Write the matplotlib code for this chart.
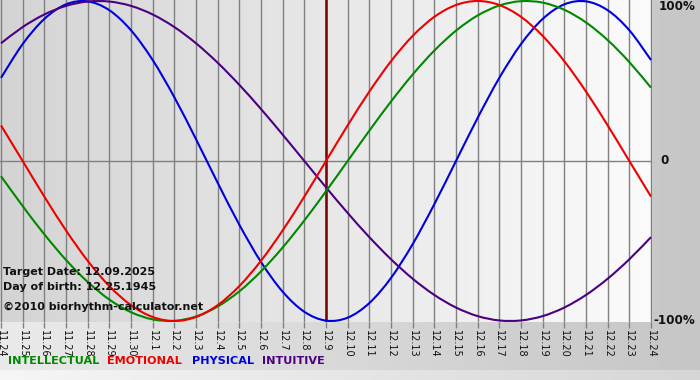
import numpy as np
import matplotlib
matplotlib.use("Agg")
import matplotlib.pyplot as plt
from matplotlib.colors import LinearSegmentedColormap
from matplotlib.path import Path
from matplotlib.patches import PathPatch

# ---- data ----
dates = ["11.24", "11.25", "11.26", "11.27", "11.28", "11.29", "11.30",
         "12.1", "12.2", "12.3", "12.4", "12.5", "12.6", "12.7", "12.8", "12.9",
         "12.10", "12.11", "12.12", "12.13", "12.14", "12.15", "12.16", "12.17",
         "12.18", "12.19", "12.20", "12.21", "12.22", "12.23", "12.24"]
target_label = "12.9"

physical = [0.5196, 0.7308, 0.8879, 0.9791, 0.9977, 0.9423, 0.8170, 0.6310, 0.3984,
            0.1362, -0.1362, -0.3984, -0.6310, -0.8170, -0.9423, -0.9977, -0.9791,
            -0.8879, -0.7308, -0.5196, -0.2698, 0.0, 0.2698, 0.5196, 0.7308, 0.8879,
            0.9791, 0.9977, 0.9423, 0.8170, 0.6310]
emotional = [0.2225, 0.0, -0.2225, -0.4339, -0.6235, -0.7818, -0.9010, -0.9749, -1.0,
             -0.9749, -0.9010, -0.7818, -0.6235, -0.4339, -0.2225, 0.0, 0.2225, 0.4339,
             0.6235, 0.7818, 0.9010, 0.9749, 1.0, 0.9749, 0.9010, 0.7818, 0.6235, 0.4339,
             0.2225, 0.0, -0.2225]
intellectual = [-0.0951, -0.2817, -0.4582, -0.6182, -0.7557, -0.8660, -0.9450, -0.9898,
                -0.9989, -0.9718, -0.9096, -0.8146, -0.6901, -0.5406, -0.3717, -0.1893,
                0.0, 0.1893, 0.3717, 0.5406, 0.6901, 0.8146, 0.9096, 0.9718, 0.9989,
                0.9898, 0.9450, 0.8660, 0.7557, 0.6182, 0.4582]
intuitive = [0.7357, 0.8372, 0.9158, 0.9694, 0.9966, 0.9966, 0.9694, 0.9158, 0.8372,
             0.7357, 0.6142, 0.4759, 0.3247, 0.1646, 0.0, -0.1646, -0.3247, -0.4759,
             -0.6142, -0.7357, -0.8372, -0.9158, -0.9694, -0.9966, -0.9966, -0.9694,
             -0.9158, -0.8372, -0.7357, -0.6142, -0.4759]

series_names = ["INTELLECTUAL", "EMOTIONAL", "PHYSICAL", "INTUITIVE"]
series_colors = ["#008800", "#ee0000", "#0000dd", "#4b0082"]
series_values = [intellectual, emotional, physical, intuitive]
draw_order = [2, 3, 0, 1]  # physical, intuitive, intellectual, emotional

info_lines = ["Target Date: 12.09.2025", "Day of birth: 12.25.1945",
              "\u00a92010 biorhythm-calculator.net"]
ytick_vals = [1, 0, -1]
ytick_text = ["100%", "0", "-100%"]

# ---- figure ----
W, H = 700, 380
fig = plt.figure(figsize=(W / 100, H / 100), dpi=100)

bg = fig.add_axes([0, 0, 1, 1], zorder=-10)
bg.set_axis_off()
grad = np.linspace(0, 1, 256).reshape(1, -1)
bg_cmap = LinearSegmentedColormap.from_list("bg", ["#eaeaea", "#c6c6c6"])
bg.imshow(grad, aspect="auto", cmap=bg_cmap, extent=[0, 1, 0, 1])
bot_cmap = LinearSegmentedColormap.from_list("bot", ["#f6f6f6", "#d6d6d6"])
bg.imshow(grad, aspect="auto", cmap=bot_cmap, extent=[0, 1, 0, 10 / H])
bg.set_xlim(0, 1)
bg.set_ylim(0, 1)

ax_right_px, ax_top_px, ax_bot_px = 652, 0, 322
ax = fig.add_axes([0, (H - ax_bot_px) / H, ax_right_px / W, (ax_bot_px - ax_top_px) / H])
n = len(dates)
x = np.arange(n)
ppd = (ax_right_px - 2) / (n - 1)
xl = (-1 / ppd, (n - 1) + 1 / ppd)
ppu = 160.0
yl = (-1 - 1 / ppu, 1 + 1 / ppu)

pa_cmap = LinearSegmentedColormap.from_list("pa", ["#d4d4d4", "#fbfbfb"])
ax.imshow(grad, aspect="auto", cmap=pa_cmap, extent=[xl[0], xl[1], yl[0], yl[1]],
          zorder=0)
ax.set_xlim(*xl)
ax.set_ylim(*yl)

for xi in x:
    ax.axvline(xi, color="#808080", lw=1.0, zorder=1)
ax.axhline(0, color="#808080", lw=1.0, zorder=1)
ax.axvline(dates.index(target_label), color="#7a0000", lw=1.8, zorder=2)


def smooth_path(xs, ys):
    """Smooth rendering through the data points (Catmull-Rom as Bezier)."""
    xs = np.asarray(xs, float)
    ys = np.asarray(ys, float)
    verts = [(xs[0], ys[0])]
    codes = [Path.MOVETO]
    m = len(xs)
    for i in range(m - 1):
        p0 = i - 1 if i > 0 else i
        p3 = i + 2 if i + 2 < m else i + 1
        c1 = (xs[i] + (xs[i + 1] - xs[p0]) / 6, ys[i] + (ys[i + 1] - ys[p0]) / 6)
        c2 = (xs[i + 1] - (xs[p3] - xs[i]) / 6, ys[i + 1] - (ys[p3] - ys[i]) / 6)
        verts += [c1, c2, (xs[i + 1], ys[i + 1])]
        codes += [Path.CURVE4] * 3
    return Path(verts, codes)


for idx in draw_order:
    patch = PathPatch(smooth_path(x, series_values[idx]), facecolor="none",
                      edgecolor=series_colors[idx], lw=1.5, zorder=3,
                      joinstyle="round", capstyle="butt")
    ax.add_patch(patch)

for sp in ax.spines.values():
    sp.set_visible(False)
ax.set_yticks([])
ax.set_xticks(x)
ax.set_xticklabels(dates, rotation=270, fontsize=7.0, color="#111111",
                   family="DejaVu Sans")
ax.tick_params(axis="x", length=4, width=1, color="#808080", pad=2)

# info text
for t, ypx in zip(info_lines, [272, 287, 307]):
    fig.text(3 / W, 1 - ypx / H, t, fontsize=8.0, fontweight="bold", color="#111111",
             ha="left", va="center", family="DejaVu Sans")

# right-side y labels
for v, t in zip(ytick_vals, ytick_text):
    ypx = {1: 7, 0: 161, -1: 321}[v]
    xpx = {"100%": 659, "0": 660, "-100%": 653}[t]
    fig.text(xpx / W, 1 - ypx / H, t, fontsize=8.6, fontweight="bold", color="#111111",
             ha="left", va="center", family="DejaVu Sans")

# legend text
for name, col, xpx in zip(series_names, series_colors, [8, 107, 192, 262]):
    fig.text(xpx / W, 1 - 361 / H, name, fontsize=8.1, fontweight="bold",
             color=col, ha="left", va="center", family="DejaVu Sans")

fig.savefig("out.png", dpi=100)
